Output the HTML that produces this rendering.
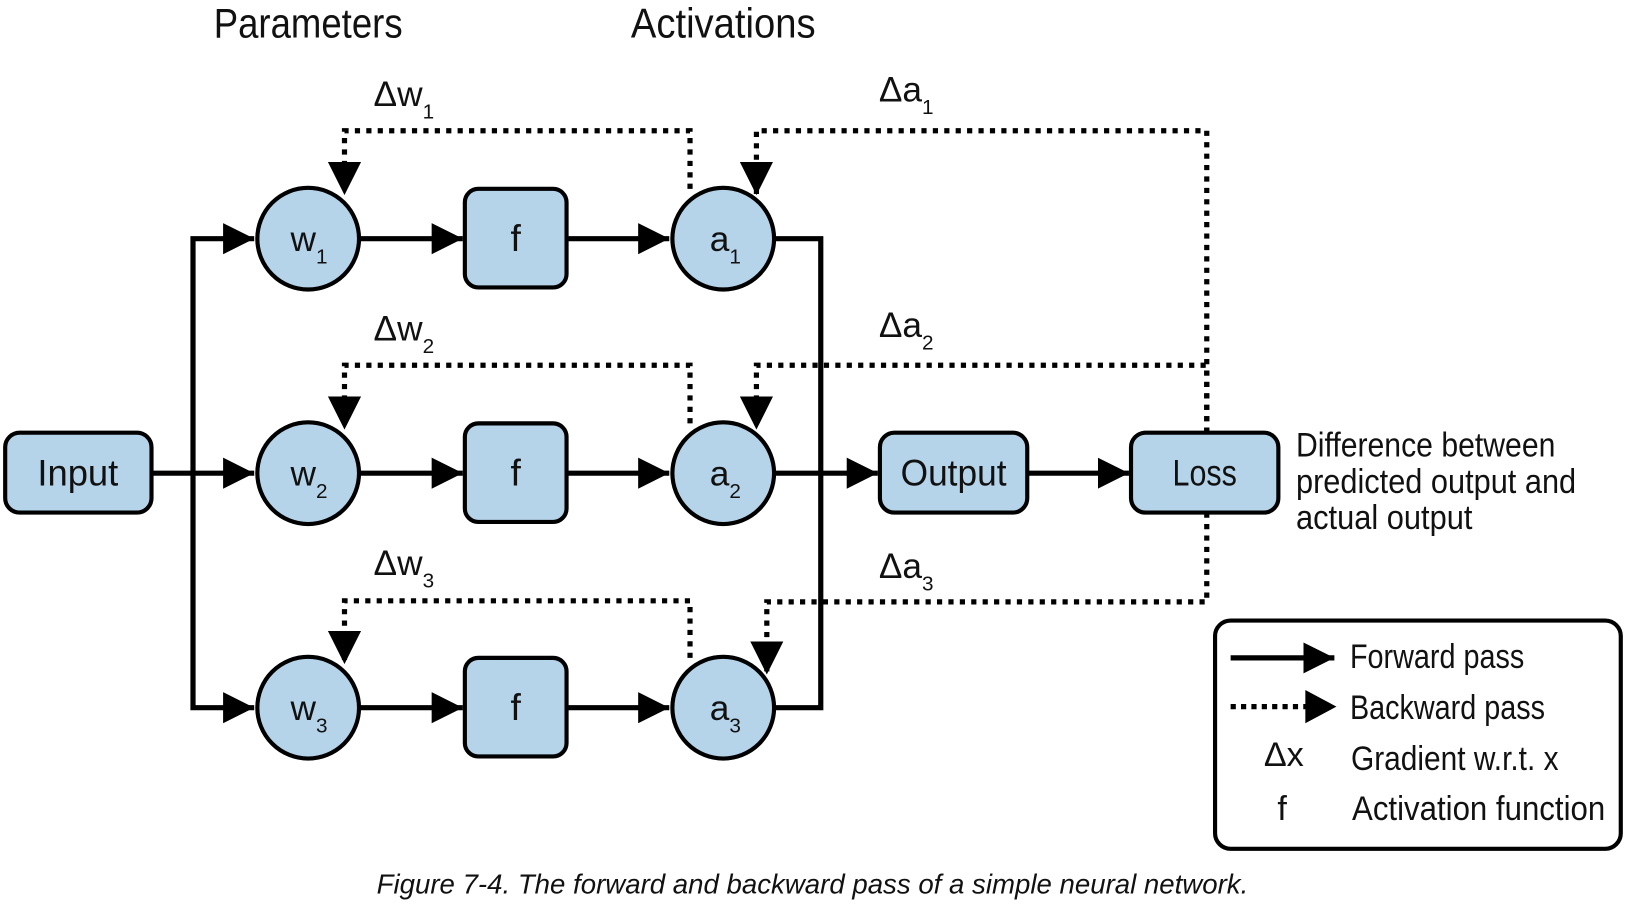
<!DOCTYPE html>
<html><head><meta charset="utf-8"><style>
html,body{margin:0;padding:0;background:#fff;}
svg{display:block;}
text{font-family:"Liberation Sans Narrow","Liberation Sans",sans-serif;fill:#111;}
</style></head><body>
<svg width="1627" height="909" viewBox="0 0 1568 876" preserveAspectRatio="none" xmlns="http://www.w3.org/2000/svg">
<defs>
<marker id="ar" viewBox="0 0 10 10" refX="10" refY="5" markerWidth="6" markerHeight="7" markerUnits="strokeWidth" orient="auto">
<path d="M0,0 L10,5 L0,10 z" fill="#000"/></marker>
<marker id="ard" viewBox="0 0 10 10" refX="10" refY="5" markerWidth="6.4" markerHeight="6.4" markerUnits="strokeWidth" orient="auto">
<path d="M0,0 L10,5 L0,10 z" fill="#000"/></marker>
</defs>
<g font-size="40">
<text x="297" y="36" text-anchor="middle" textLength="182" lengthAdjust="spacingAndGlyphs">Parameters</text>
<text x="697" y="36" text-anchor="middle" textLength="178" lengthAdjust="spacingAndGlyphs">Activations</text>
</g>
<!-- dotted backward -->
<g fill="none" stroke="#000" stroke-width="5" stroke-dasharray="5 6">
<path d="M665,182 V126 H332 V188" marker-end="url(#ard)"/>
<path d="M665,408 V352 H332 V414" marker-end="url(#ard)"/>
<path d="M665,634 V579 H332 V640" marker-end="url(#ard)"/>
<path d="M1163,417 V126 H729 V188" marker-end="url(#ard)"/>
<path d="M1163,417 V352 H729 V414" marker-end="url(#ard)"/>
<path d="M1163,494 V580 H739 V650" marker-end="url(#ard)"/>
</g>
<!-- forward -->
<g fill="none" stroke="#000" stroke-width="5">
<path d="M146,456 H245" marker-end="url(#ar)"/>
<path d="M186,456 V230 H245" marker-end="url(#ar)"/>
<path d="M186,456 V682 H245" marker-end="url(#ar)"/>
<path d="M347,230 H446" marker-end="url(#ar)"/>
<path d="M347,456 H446" marker-end="url(#ar)"/>
<path d="M347,682 H446" marker-end="url(#ar)"/>
<path d="M546,230 H645" marker-end="url(#ar)"/>
<path d="M546,456 H645" marker-end="url(#ar)"/>
<path d="M546,682 H645" marker-end="url(#ar)"/>
<path d="M747,230 H791 V682 H747"/>
<path d="M747,456 H846" marker-end="url(#ar)"/>
<path d="M990,456 H1088" marker-end="url(#ar)"/>
</g>
<!-- nodes -->
<g fill="#b5d4ea" stroke="#000" stroke-width="4">
<rect x="5" y="417" width="141" height="77" rx="14"/>
<rect x="848" y="417" width="142" height="77" rx="14"/>
<rect x="1090" y="417" width="142" height="77" rx="14"/>
<circle cx="297" cy="230" r="49"/><circle cx="297" cy="456" r="49"/><circle cx="297" cy="682" r="49"/>
<circle cx="697" cy="230" r="49"/><circle cx="697" cy="456" r="49"/><circle cx="697" cy="682" r="49"/>
<rect x="448" y="182" width="98" height="95" rx="13"/>
<rect x="448" y="408" width="98" height="95" rx="13"/>
<rect x="448" y="634" width="98" height="95" rx="13"/>
</g>
<g font-size="36" text-anchor="middle">
<text x="75" y="468" textLength="78" lengthAdjust="spacingAndGlyphs">Input</text>
<text x="919" y="468" textLength="102" lengthAdjust="spacingAndGlyphs">Output</text>
<text x="1161" y="468" textLength="62" lengthAdjust="spacingAndGlyphs">Loss</text>
<text x="497" y="242">f</text><text x="497" y="468">f</text><text x="497" y="694">f</text>
</g>
<g font-size="34">
<text x="280" y="242">w<tspan font-size="20" dy="12">1</tspan></text>
<text x="280" y="468">w<tspan font-size="20" dy="12">2</tspan></text>
<text x="280" y="694">w<tspan font-size="20" dy="12">3</tspan></text>
<text x="684" y="242">a<tspan font-size="20" dy="12">1</tspan></text>
<text x="684" y="468">a<tspan font-size="20" dy="12">2</tspan></text>
<text x="684" y="694">a<tspan font-size="20" dy="12">3</tspan></text>
<text x="360" y="102">Δw<tspan font-size="20" dy="12">1</tspan></text>
<text x="360" y="328">Δw<tspan font-size="20" dy="12">2</tspan></text>
<text x="360" y="554">Δw<tspan font-size="20" dy="12">3</tspan></text>
<text x="847" y="98">Δa<tspan font-size="20" dy="12">1</tspan></text>
<text x="847" y="325">Δa<tspan font-size="20" dy="12">2</tspan></text>
<text x="847" y="557">Δa<tspan font-size="20" dy="12">3</tspan></text>
</g>
<g font-size="33">
<text x="1249" y="440" textLength="250" lengthAdjust="spacingAndGlyphs">Difference between</text>
<text x="1249" y="475" textLength="270" lengthAdjust="spacingAndGlyphs">predicted output and</text>
<text x="1249" y="510" textLength="170" lengthAdjust="spacingAndGlyphs">actual output</text>
</g>
<!-- legend -->
<rect x="1171" y="598" width="391" height="220" rx="15" fill="#fff" stroke="#000" stroke-width="4"/>
<path d="M1186,634 H1286" stroke="#000" stroke-width="5" marker-end="url(#ar)"/>
<path d="M1186,681 H1262" stroke="#000" stroke-width="5" stroke-dasharray="5 5"/>
<path d="M1258,665 L1288,681 L1258,697 z" fill="#000"/>
<g font-size="33">
<text x="1301" y="644" textLength="168" lengthAdjust="spacingAndGlyphs">Forward pass</text>
<text x="1301" y="693" textLength="188" lengthAdjust="spacingAndGlyphs">Backward pass</text>
<text x="1218" y="738">Δx</text>
<text x="1302" y="742" textLength="200" lengthAdjust="spacingAndGlyphs">Gradient w.r.t. x</text>
<text x="1231" y="790">f</text>
<text x="1303" y="790" textLength="244" lengthAdjust="spacingAndGlyphs">Activation function</text>
</g>
<text x="783" y="861" font-size="27" font-style="italic" text-anchor="middle" fill="#222" textLength="840" lengthAdjust="spacingAndGlyphs">Figure 7-4. The forward and backward pass of a simple neural network.</text>
</svg>
</body></html>
